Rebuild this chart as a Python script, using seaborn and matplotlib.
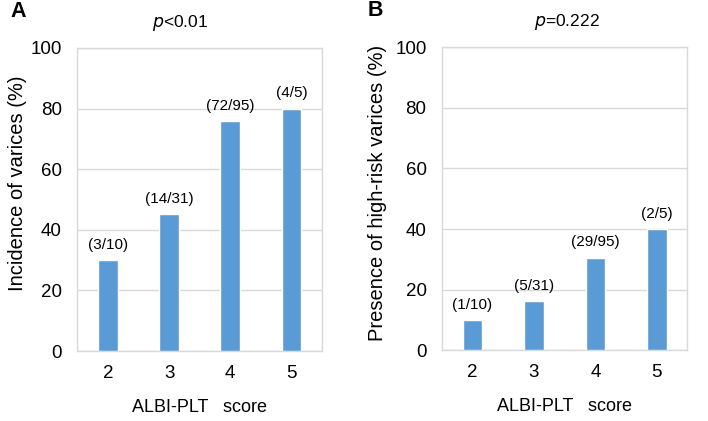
import matplotlib
matplotlib.use("Agg")
import matplotlib.pyplot as plt
import pandas as pd
import seaborn as sns

scores = ["2", "3", "4", "5"]
varices_pct = [30.0, 45.2, 75.8, 80.0]
varices_labels = ["(3/10)", "(14/31)", "(72/95)", "(4/5)"]
highrisk_pct = [10.0, 16.1, 30.5, 40.0]
highrisk_labels = ["(1/10)", "(5/31)", "(29/95)", "(2/5)"]

BAR_COLOR = "#5B9BD5"
GRID_COLOR = "#D9D9D9"

sns.set_theme(style="white")
plt.rcParams["font.family"] = ["Liberation Sans", "DejaVu Sans"]
plt.rcParams["text.color"] = "black"
plt.rcParams["axes.labelcolor"] = "black"

fig = plt.figure(figsize=(7.08, 4.21), dpi=100)
ax_a = fig.add_axes([0.109, 0.166, 0.346, 0.720])
ax_b = fig.add_axes([0.624, 0.168, 0.347, 0.720])


def draw_panel(ax, values, labels, ylabel, ylab_xy, pval, p_x, letter, letter_x):
    df = pd.DataFrame({"score": scores, "pct": values})
    sns.barplot(data=df, x="score", y="pct", color=BAR_COLOR, width=0.32,
                saturation=1, ax=ax, zorder=3)
    ax.set_ylim(0, 100)
    ax.set_yticks(range(0, 101, 20))
    ax.yaxis.grid(True, color=GRID_COLOR, lw=1, zorder=0)
    ax.set_axisbelow(True)
    for s in ax.spines.values():
        s.set_color(GRID_COLOR)
        s.set_linewidth(1)
    ax.tick_params(axis="both", length=0, labelsize=13.5, colors="black")
    ax.tick_params(axis="y", pad=11)
    ax.tick_params(axis="x", pad=10)
    ax.set_xlabel("ALBI-PLT   score", fontsize=13, labelpad=12)
    ax.set_ylabel(ylabel, fontsize=14.5)
    ax.yaxis.set_label_coords(*ylab_xy)
    for i, (v, lab) in enumerate(zip(values, labels)):
        ax.annotate(lab, (i, v), xytext=(0, 6), textcoords="offset points",
                    ha="center", va="bottom", fontsize=11)
    ax.text(p_x, 1.05, pval, transform=ax.transAxes, ha="center",
            va="bottom", fontsize=12.5)
    ax.text(letter_x, 1.085, letter, transform=ax.transAxes, ha="left",
            va="bottom", fontsize=15.5, fontweight="bold")


draw_panel(ax_a, varices_pct, varices_labels, "Incidence of varices (%)",
           (-0.205, 0.554), "$\\it{p}$<0.01", 0.42, "A", -0.273)
draw_panel(ax_b, highrisk_pct, highrisk_labels,
           "Presence of high-risk varices (%)", (-0.225, 0.52),
           "$\\it{p}$=0.222", 0.51, "B", -0.30)

fig.savefig("out.png", dpi=100)
